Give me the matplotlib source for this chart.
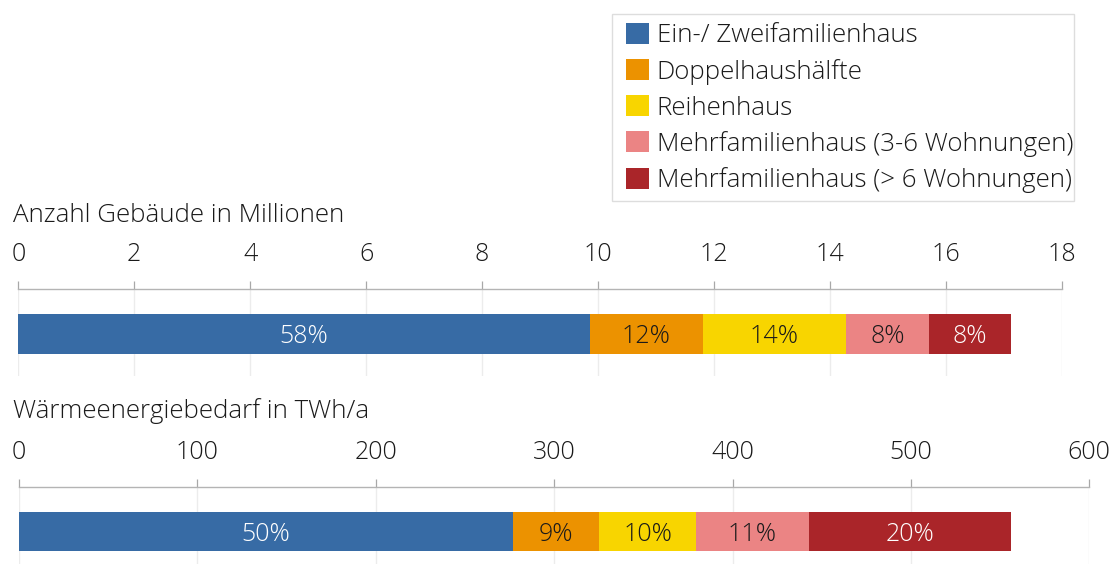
import matplotlib
matplotlib.use("Agg")
import matplotlib.pyplot as plt
from matplotlib.patches import Patch, Rectangle
import numpy as np

plt.rcParams['font.family'] = ['Open Sans', 'DejaVu Sans']
plt.rcParams['font.weight'] = 'light'

# ---- data ----
categories = ["Ein-/ Zweifamilienhaus", "Doppelhaushälfte", "Reihenhaus",
              "Mehrfamilienhaus (3-6 Wohnungen)", "Mehrfamilienhaus (> 6 Wohnungen)"]
colors = ["#376BA5", "#EC9200", "#F8D500", "#EB8484", "#AA2529"]
label_colors = ["white", "#1a1a1a", "#1a1a1a", "#1a1a1a", "white"]

gebaeude = [9.86, 1.95, 2.47, 1.43, 1.41]          # Mio. Gebäude
gebaeude_pct = ["58%", "12%", "14%", "8%", "8%"]
waerme = [277.0, 48.2, 54.4, 63.0, 113.5]          # TWh/a
waerme_pct = ["50%", "9%", "10%", "11%", "20%"]

top_ticks = [0, 2, 4, 6, 8, 10, 12, 14, 16, 18]
bot_ticks = [0, 100, 200, 300, 400, 500, 600]

title_top = "Anzahl Gebäude in Millionen"
title_bot = "Wärmeenergiebedarf in TWh/a"

# ---- layout ----
W, H = 1116, 564
fig = plt.figure(figsize=(W / 100, H / 100), dpi=100)

FS_BIG = 18.6
FS_TICK = 18
FS_BAR = 18
TXT = "#1a1a1a"


def px_axes(x0, x1, ytop, ybot):
    return fig.add_axes([x0 / W, 1 - ybot / H, (x1 - x0) / W, (ybot - ytop) / H])


def style(ax, xmax, ticks, ylim):
    ax.set_xlim(0, xmax)
    ax.set_ylim(*ylim)
    ax.xaxis.tick_top()
    ax.set_xticks(ticks)
    ax.set_xticklabels([str(t) for t in ticks])
    ax.set_yticks([])
    for s in ["left", "right", "bottom"]:
        ax.spines[s].set_visible(False)
    ax.spines["top"].set_color("#b4b4b4")
    ax.spines["top"].set_linewidth(1.0)
    ax.tick_params(axis="x", direction="out", length=6, width=0.9, color="#a8a8a8",
                   pad=10.0, labelsize=FS_TICK, labelcolor=TXT)
    ax.grid(axis="x", color="#ececec", linewidth=1.0)
    ax.set_axisbelow(True)


def stacked(ax, values, pct, height):
    left = 0.0
    for v, c, lab, lc in zip(values, colors, pct, label_colors):
        ax.barh([0], [v], left=[left], height=height, color=c, linewidth=0)
        ax.text(left + v / 2, 0, lab, ha="center", va="center_baseline",
                color=lc, fontsize=FS_BAR)
        left += v


ax1 = px_axes(18.3, 1061.7, 289.3, 376)
style(ax1, 18, top_ticks, (-42.1, 44.6))
stacked(ax1, gebaeude, gebaeude_pct, 39.7)

ax2 = px_axes(19, 1089.3, 487.3, 564)
style(ax2, 600, bot_ticks, (-32.65, 44.05))
stacked(ax2, waerme, waerme_pct, 38.7)

fig.text(13 / W, 1 - 222 / H, title_top, fontsize=FS_BIG, color=TXT, va="baseline", ha="left")
fig.text(13 / W, 1 - 418 / H, title_bot, fontsize=FS_BIG, color=TXT, va="baseline", ha="left")

# legend frame (drawn separately for exact padding)
fig.patches.append(Rectangle((611.7 / W, 1 - 201 / H), (1074 - 611.7) / W, 187 / H,
                             transform=fig.transFigure, fill=False,
                             edgecolor="#dddddd", linewidth=1.0))

fs_px = FS_BIG * 100 / 72
handles = [Patch(facecolor=c, edgecolor="none") for c in colors]
leg = fig.legend(handles, categories, loc="upper left",
                 bbox_to_anchor=(626 / W, 1 - 23 / H), bbox_transform=fig.transFigure,
                 fontsize=FS_BIG, frameon=False, borderaxespad=0, borderpad=0,
                 handlelength=23 / fs_px, handleheight=22.7 / fs_px,
                 handletextpad=7.7 / fs_px, labelspacing=0.40)
for t in leg.get_texts():
    t.set_color(TXT)

fig.savefig("out.png", dpi=100)
